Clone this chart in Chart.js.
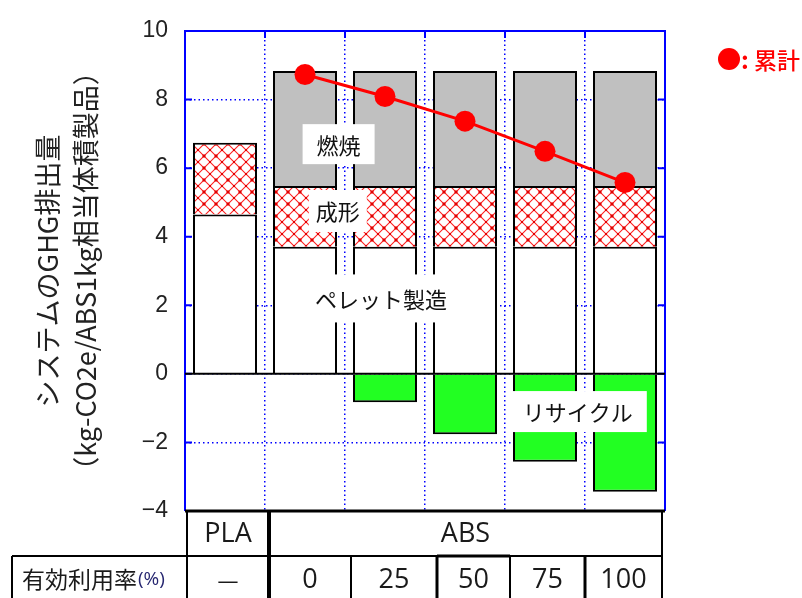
<!DOCTYPE html>
<html>
<head>
<meta charset="utf-8">
<script src="https://cdn.jsdelivr.net/npm/chart.js@4"></script>
<style>
  html, body { margin: 0; padding: 0; background: #fff; }
</style>
</head>
<body>
<canvas id="myChart" width="802" height="598"></canvas>
<script>
// données
var rates = ['—', '0', '25', '50', '75', '100'];
var materials = ['PLA', 'ABS'];
var pellet = [4.65, 3.71, 3.71, 3.71, 3.71, 3.71];      // ペレット製造
var molding = [2.09, 1.77, 1.77, 1.77, 1.77, 1.77];     // 成形
var burning = [null, 3.35, 3.35, 3.35, 3.35, 3.35];    // 燃焼
var recycle = [null, null, -0.83, -1.76, -2.56, -3.44]; // リサイクル
var total = [null, 8.73, 8.09, 7.37, 6.49, 5.58];       // 累計

// motif quadrillé rouge pour 成形
function makeHatch() {
    var c = document.createElement('canvas');
    c.width = 12; c.height = 12;
    var g = c.getContext('2d');
    g.fillStyle = '#fff';
    g.fillRect(0, 0, 12, 12);
    g.strokeStyle = '#ff2020';
    g.lineWidth = 1.1;
    g.beginPath();
    g.moveTo(0, 0); g.lineTo(12, 12);
    g.moveTo(12, 0); g.lineTo(0, 12);
    g.stroke();
    g.fillStyle = '#e00000';
    g.fillRect(5, 5, 2, 2);
    g.fillRect(0, 0, 1.5, 1.5); g.fillRect(10.5, 0, 1.5, 1.5);
    g.fillRect(0, 10.5, 1.5, 1.5); g.fillRect(10.5, 10.5, 1.5, 1.5);
    return g.createPattern(c, 'repeat');
}

var notes = [
    { text: '燃焼', x: 1.42, y: 6.7, w: 72, h: 40 },
    { text: '成形', x: 1.41, y: 4.75, w: 58, h: 42 },
    { text: 'ペレット製造', x: 1.95, y: 2.2, w: 148, h: 48 },
    { text: 'リサイクル', x: 4.41, y: -1.1, w: 138, h: 41 }
];

var jp = '"Noto Sans CJK JP", "Noto Sans", sans-serif';
var tableCols = [187, 269, 351, 437, 510, 585, 662];

var decorPlugin = {
    id: 'decor',
    beforeDatasetsDraw: function (chart) {
        var ctx = chart.ctx, a = chart.chartArea;
        var xs = chart.scales.x, ys = chart.scales.y;
        ctx.save();
        ctx.strokeStyle = '#0000ff';
        ctx.lineWidth = 2;
        // petites graduations
        ys.ticks.forEach(function (t) {
            var y = ys.getPixelForValue(t.value);
            ctx.beginPath();
            ctx.moveTo(a.left, y); ctx.lineTo(a.left + 7, y);
            ctx.moveTo(a.right, y); ctx.lineTo(a.right - 7, y);
            ctx.stroke();
        });
        for (var i = 0; i < rates.length - 1; i++) {
            var x = xs.getPixelForValue(i + 0.5);
            ctx.beginPath();
            ctx.moveTo(x, a.top); ctx.lineTo(x, a.top + 7);
            ctx.stroke();
        }
        ctx.restore();
    },
    afterDatasetsDraw: function (chart) {
        var ctx = chart.ctx, a = chart.chartArea;
        var xs = chart.scales.x, ys = chart.scales.y;
        ctx.save();
        // cadre
        ctx.strokeStyle = '#0000ff';
        ctx.lineWidth = 2;
        ctx.beginPath();
        ctx.moveTo(a.left, a.bottom); ctx.lineTo(a.left, a.top);
        ctx.lineTo(a.right, a.top); ctx.lineTo(a.right, a.bottom);
        ctx.stroke();
        // ligne zéro
        var y0 = ys.getPixelForValue(0);
        ctx.strokeStyle = '#000';
        ctx.beginPath();
        ctx.moveTo(a.left, y0); ctx.lineTo(a.right, y0);
        ctx.stroke();

        // étiquettes
        ctx.font = '22px ' + jp;
        ctx.textAlign = 'center';
        ctx.textBaseline = 'middle';
        notes.forEach(function (n) {
            var px = xs.getPixelForValue(n.x), py = ys.getPixelForValue(n.y);
            ctx.fillStyle = '#fff';
            ctx.fillRect(px - n.w / 2, py - n.h / 2, n.w, n.h);
            ctx.fillStyle = '#111';
            ctx.fillText(n.text, px, py + 1);
        });

        // légende
        ctx.fillStyle = '#ff0000';
        ctx.beginPath();
        ctx.arc(a.right + 64, 59, 11, 0, Math.PI * 2);
        ctx.fill();
        ctx.textAlign = 'left';
        ctx.font = 'bold 24px ' + jp;
        ctx.fillText(':', a.right + 76, 60);
        ctx.font = '500 23px ' + jp;
        ctx.fillText('累計', a.right + 89, 60);
        ctx.restore();
    },
    afterDraw: function (chart) {
        var ctx = chart.ctx, a = chart.chartArea;
        var top = a.bottom, mid = 556, bot = 600;
        ctx.save();
        ctx.strokeStyle = '#000';
        ctx.fillStyle = '#000';
        function line(x1, y1, x2, y2, w) {
            ctx.lineWidth = w;
            ctx.beginPath();
            ctx.moveTo(x1, y1); ctx.lineTo(x2, y2);
            ctx.stroke();
        }
        line(a.left, top, a.right, top, 3);
        line(12, mid, tableCols[6], mid, 2);
        line(12, mid, 12, bot, 2);
        line(tableCols[0], top, tableCols[0], bot, 2);
        line(tableCols[1], top, tableCols[1], bot, 4);
        line(tableCols[6], top, tableCols[6], bot, 2);
        line(tableCols[2], mid, tableCols[2], bot, 2);
        line(tableCols[3], mid, tableCols[3], bot, 3);
        line(tableCols[3], mid, tableCols[4], mid, 3);
        line(tableCols[4], mid, tableCols[4], bot, 2);
        line(tableCols[5], mid, tableCols[5], bot, 3);

        ctx.textAlign = 'center';
        ctx.textBaseline = 'middle';
        ctx.fillStyle = '#1a1a1a';
        ctx.font = '27px "Open Sans", sans-serif';
        ctx.fillText(materials[0], (tableCols[0] + tableCols[1]) / 2, (top + mid) / 2 + 1);
        ctx.fillText(materials[1], (tableCols[1] + tableCols[6]) / 2, (top + mid) / 2 + 1);
        for (var i = 0; i < rates.length; i++) {
            var cx = (tableCols[i] + tableCols[i + 1]) / 2;
            if (i === 0) {
                ctx.font = '24px ' + jp;
            } else {
                ctx.font = '27px "Open Sans", sans-serif';
            }
            ctx.fillText(rates[i], cx, 580);
        }
        ctx.textAlign = 'left';
        ctx.font = '23px ' + jp;
        ctx.fillText('有効利用率', 22, 579);
        ctx.fillStyle = '#262670';
        ctx.font = '19px "Open Sans", sans-serif';
        ctx.fillText('(%)', 138, 580);
        ctx.restore();
    }
};

var ctx = document.getElementById('myChart').getContext('2d');
var hatch = makeHatch();

var myChart = new Chart(ctx, {
    type: 'bar',
    data: {
        labels: rates,
        datasets: [
            { label: 'ペレット製造', data: pellet, backgroundColor: '#ffffff', borderColor: '#000', borderWidth: 2, order: 1 },
            { label: '成形', data: molding, backgroundColor: hatch, borderColor: '#000', borderWidth: 2, order: 1 },
            { label: '燃焼', data: burning, backgroundColor: '#c0c0c0', borderColor: '#000', borderWidth: 2, order: 1 },
            { label: 'リサイクル', data: recycle, backgroundColor: '#22ff22', borderColor: '#000', borderWidth: 2, order: 1 },
            {
                type: 'line', label: '累計', data: total,
                borderColor: '#ff0000', borderWidth: 3,
                pointRadius: 10.5, pointBackgroundColor: '#ff0000', pointBorderWidth: 0,
                order: 0
            }
        ]
    },
    options: {
        responsive: false,
        animation: false,
        layout: { padding: { top: 31, right: 137, bottom: 87, left: 0 } },
        plugins: { legend: { display: false }, tooltip: { enabled: false } },
        datasets: { bar: { barPercentage: 0.8, categoryPercentage: 1 } },
        scales: {
            x: {
                stacked: true,
                ticks: { display: false },
                grid: { color: '#0000ff', lineWidth: 1.5, drawTicks: false, offset: true },
                border: { display: false, dash: [1.5, 3] },
                afterFit: function (s) { s.height = 0; }
            },
            y: {
                stacked: true,
                min: -4,
                max: 10,
                ticks: {
                    stepSize: 2,
                    padding: 17,
                    color: '#222',
                    font: { family: '"Liberation Sans Narrow", "Liberation Sans", sans-serif', size: 23 },
                    callback: function (v) { return String(v).replace('-', '−'); }
                },
                grid: { color: '#0000ff', lineWidth: 1.5, drawTicks: false },
                border: { display: false, dash: [1.5, 3] },
                title: {
                    display: true,
                    text: ['システムのGHG排出量', '（kg-CO2e/ABS1kg相当体積製品）'],
                    color: '#222',
                    font: { family: '"Noto Sans CJK JP", sans-serif', size: 27, lineHeight: 1.4 },
                    padding: { top: 29, bottom: 0 }
                },
                afterFit: function (s) { s.width = 185; }
            }
        }
    },
    plugins: [decorPlugin]
});
</script>
</body>
</html>
